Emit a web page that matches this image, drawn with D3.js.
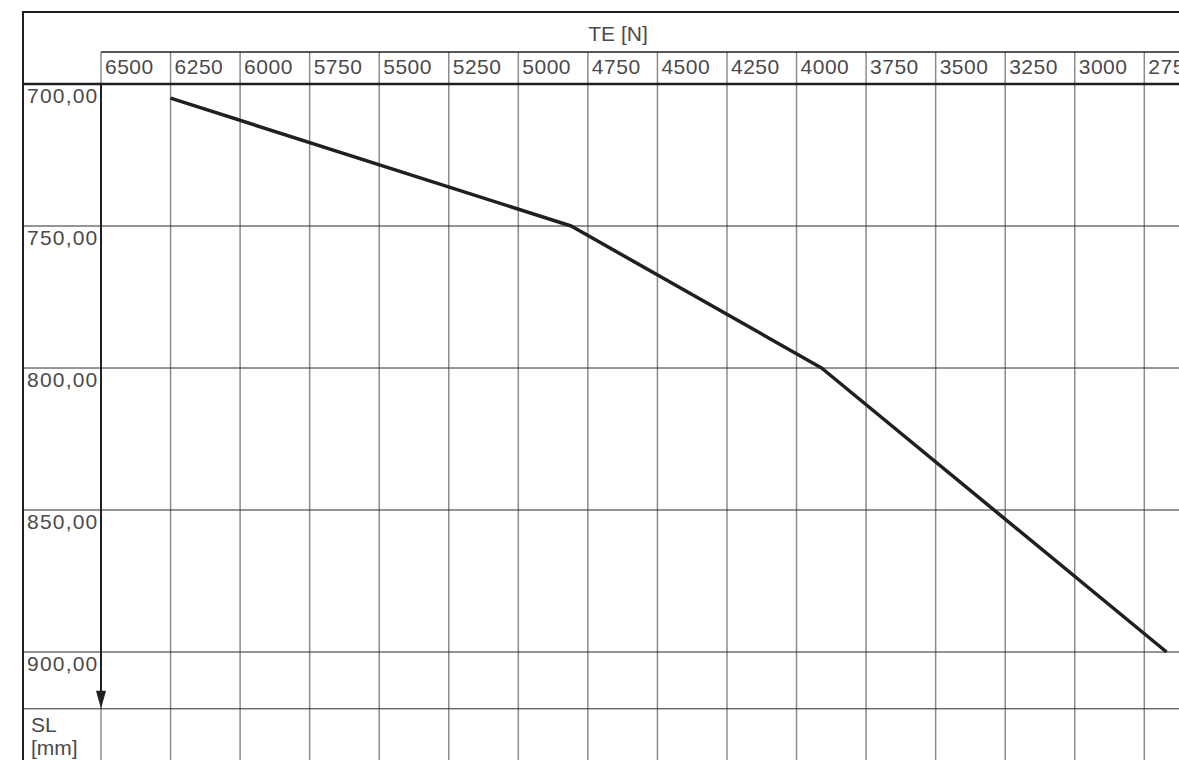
<!DOCTYPE html>
<html>
<head>
<meta charset="utf-8">
<script src="https://cdn.jsdelivr.net/npm/d3@7"></script>
<style>
  body { margin: 0; background: #fff; }
  svg { display: block; }
  text { font-family: "Liberation Sans", Arial, sans-serif; fill: #4a4a4a; }
</style>
</head>
<body>
<div id="chart"></div>
<script>
// Tick values (TE in N across the top, SL in mm downwards)
const teTicks = [6500, 6250, 6000, 5750, 5500, 5250, 5000, 4750, 4500, 4250, 4000, 3750, 3500, 3250, 3000, 2750];
const slTicks = [700, 750, 800, 850, 900];

// Curve
const curveTE = [6250, 4810, 3910, 2670];
const curveSL = [705, 750, 800, 900];

const W = 1179, H = 760;
const frameLeft = 23, frameTop = 12, headerTop = 52, plotTop = 84;
const fontSize = 21;

const svg = d3.select("#chart").append("svg")
    .attr("width", W)
    .attr("height", H);

// Scales: TE decreases left to right, SL grows downwards
const x = d3.scaleLinear().domain([6500, 2750]).range([101, 1144.3]);
const y = d3.scaleLinear().domain([700, 900]).range([plotTop, 652]);

const fmt = d3.formatLocale({ decimal: ",", thousands: ".", grouping: [3], currency: ["", ""] }).format(".2f");

// Vertical grid (grey), from header top down
svg.append("g")
    .selectAll("line")
    .data(teTicks)
    .join("line")
    .attr("x1", d => x(d)).attr("x2", d => x(d))
    .attr("y1", headerTop).attr("y2", H)
    .attr("stroke", "#8c8c8c")
    .attr("stroke-width", 1.5);

// Horizontal grid (dark), plus the separator row above SL [mm]
svg.append("g")
    .selectAll("line")
    .data(slTicks.slice(1).concat([920]))
    .join("line")
    .attr("x1", frameLeft).attr("x2", W)
    .attr("y1", d => y(d)).attr("y2", d => y(d))
    .attr("stroke", "#2a2a2a")
    .attr("stroke-width", 1);

// Frame and header lines
const frame = svg.append("g").attr("stroke", "#231f20");
frame.append("line").attr("x1", frameLeft).attr("x2", frameLeft).attr("y1", frameTop - 1).attr("y2", H).attr("stroke-width", 2);
frame.append("line").attr("x1", frameLeft).attr("x2", W).attr("y1", frameTop).attr("y2", frameTop).attr("stroke-width", 2);
frame.append("line").attr("x1", x(6500)).attr("x2", W).attr("y1", headerTop).attr("y2", headerTop).attr("stroke-width", 1.5);
frame.append("line").attr("x1", frameLeft).attr("x2", W).attr("y1", plotTop).attr("y2", plotTop).attr("stroke-width", 2.5);

// SL axis arrow, pointing down
const arrowTip = y(920);
frame.append("line")
    .attr("x1", x(6500)).attr("x2", x(6500))
    .attr("y1", plotTop).attr("y2", arrowTip - 14)
    .attr("stroke-width", 2);
svg.append("path")
    .attr("d", `M${x(6500) - 5},${arrowTip - 18} L${x(6500) + 5},${arrowTip - 18} L${x(6500)},${arrowTip} Z`)
    .attr("fill", "#231f20");

// Header labels
svg.append("text")
    .attr("x", 618).attr("y", 41)
    .attr("text-anchor", "middle")
    .attr("font-size", fontSize)
    .text("TE [N]");

svg.append("g")
    .selectAll("text")
    .data(teTicks)
    .join("text")
    .attr("x", d => x(d) + 4)
    .attr("y", 74)
    .attr("font-size", fontSize)
    .attr("letter-spacing", 0.5)
    .text(d => d);

// Row labels
svg.append("g")
    .selectAll("text")
    .data(slTicks)
    .join("text")
    .attr("x", 27)
    .attr("y", d => y(d) + 19)
    .attr("font-size", fontSize)
    .attr("letter-spacing", 1.2)
    .text(d => fmt(d));

svg.append("text").attr("x", 31).attr("y", 732).attr("font-size", fontSize).text("SL");
svg.append("text").attr("x", 31).attr("y", 755).attr("font-size", fontSize).text("[mm]");

// Curve
const line = d3.line()
    .x(d => x(d[0]))
    .y(d => y(d[1]));

svg.append("path")
    .datum(d3.zip(curveTE, curveSL))
    .attr("d", line)
    .attr("fill", "none")
    .attr("stroke", "#231f20")
    .attr("stroke-width", 3.5)
    .attr("stroke-linejoin", "round");
</script>
</body>
</html>
